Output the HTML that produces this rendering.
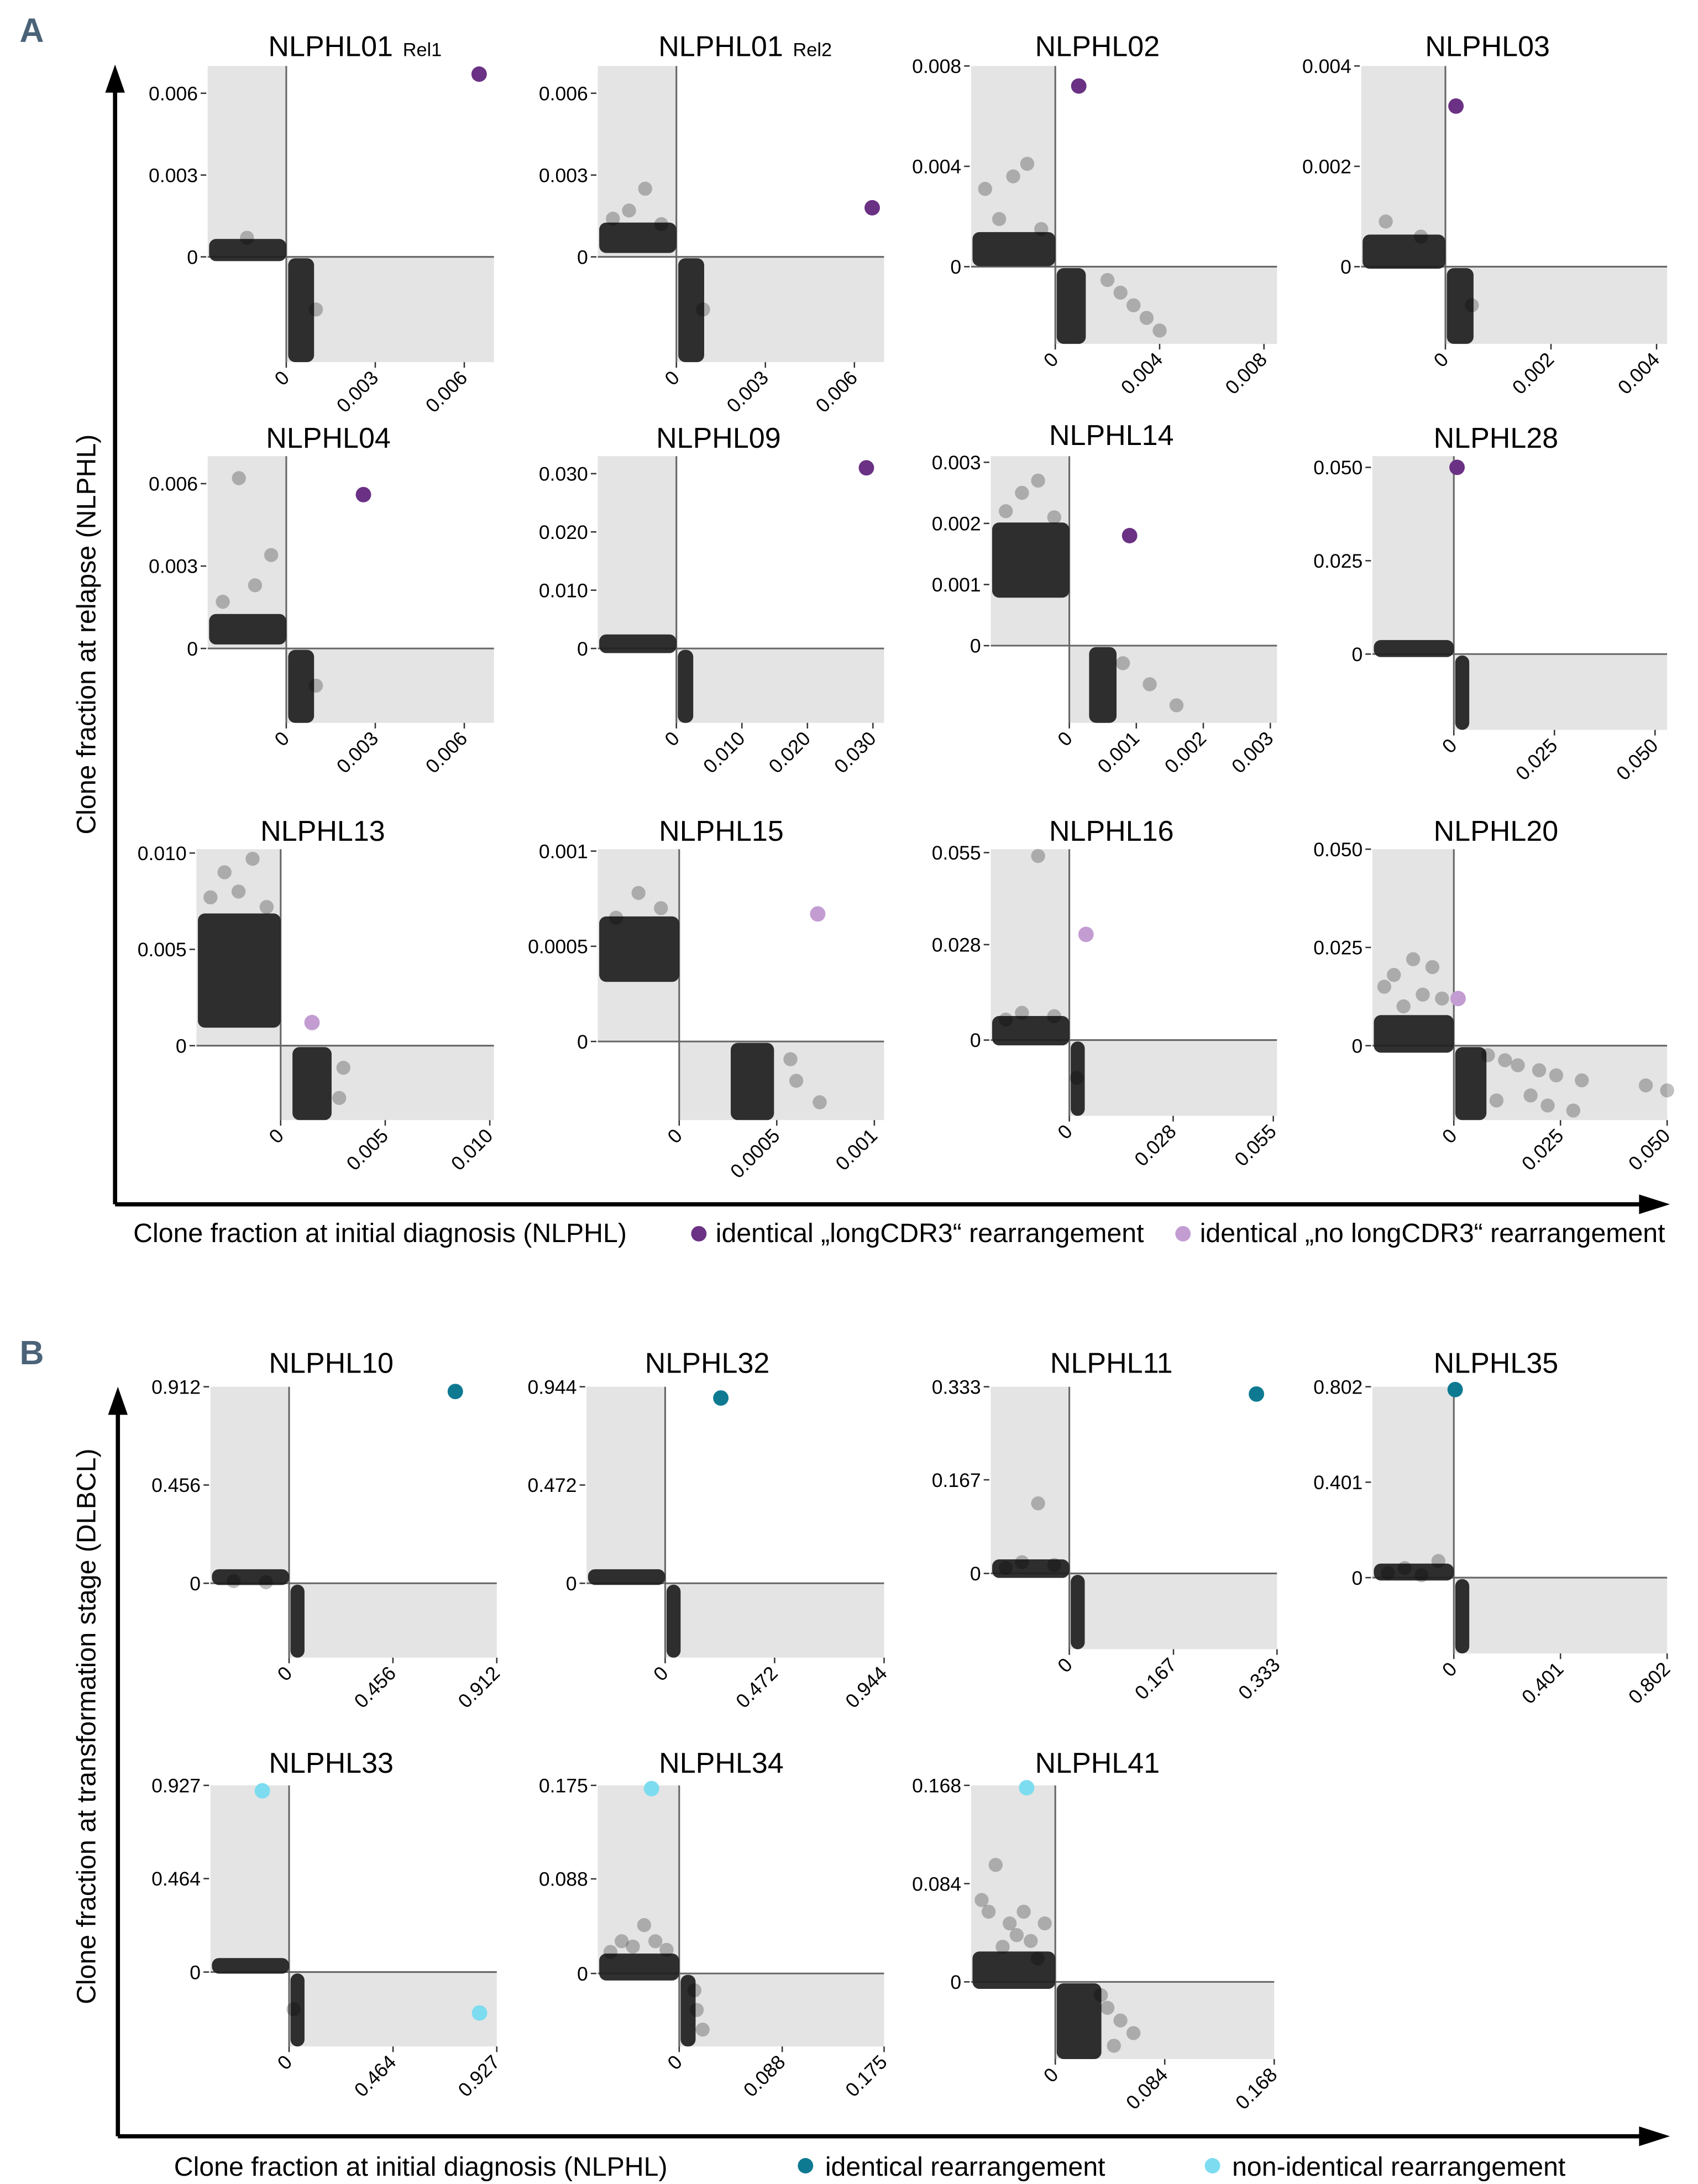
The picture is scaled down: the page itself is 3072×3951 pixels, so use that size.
<!DOCTYPE html>
<html><head><meta charset="utf-8"><style>
html,body{margin:0;padding:0;background:#fff;}
svg{display:block;font-family:"Liberation Sans",sans-serif;}
</style></head><body>
<svg id="fig" width="3072" height="3951" viewBox="0 0 1210 1556" preserveAspectRatio="none" xmlns="http://www.w3.org/2000/svg">
<g id="static">
<text x="14" y="30" font-size="24" font-weight="bold" fill="#4a6378" font-family="Liberation Sans Narrow, Liberation Sans, sans-serif">A</text>
<text x="14" y="972" font-size="24" font-weight="bold" fill="#4a6378" font-family="Liberation Sans Narrow, Liberation Sans, sans-serif">B</text>
<line x1="82" y1="858" x2="82" y2="62" stroke="#000" stroke-width="3"/>
<polygon points="82,46 75,66 89,66" fill="#000"/>
<line x1="82" y1="858" x2="1172" y2="858" stroke="#000" stroke-width="3"/>
<polygon points="1190,858 1168,851 1168,865" fill="#000"/>
<text transform="translate(68,452) rotate(-90)" text-anchor="middle" font-size="19">Clone fraction at relapse (NLPHL)</text>
<text x="95" y="885" font-size="19">Clone fraction at initial diagnosis (NLPHL)</text>
<circle cx="498" cy="879" r="5.5" fill="#6a3184"/>
<text x="510" y="885" font-size="19">identical „longCDR3“ rearrangement</text>
<circle cx="843" cy="879" r="5.5" fill="#c39dd2"/>
<text x="855" y="885" font-size="19">identical „no longCDR3“ rearrangement</text>
<line x1="84" y1="1522" x2="84" y2="1004" stroke="#000" stroke-width="3"/>
<polygon points="84,988 77,1008 91,1008" fill="#000"/>
<line x1="84" y1="1522" x2="1172" y2="1522" stroke="#000" stroke-width="3"/>
<polygon points="1190,1522 1168,1515 1168,1529" fill="#000"/>
<text transform="translate(68,1230) rotate(-90)" text-anchor="middle" font-size="19">Clone fraction at transformation stage (DLBCL)</text>
<text x="124" y="1550" font-size="19">Clone fraction at initial diagnosis (NLPHL)</text>
<circle cx="574" cy="1543" r="5.5" fill="#0e7a92"/>
<text x="588" y="1550" font-size="19">identical rearrangement</text>
<circle cx="864" cy="1543" r="5.5" fill="#7ddcf0"/>
<text x="878" y="1550" font-size="19">non-identical rearrangement</text>
</g>
<g id="panels"></g>
</svg>
<script>
// ---- data (per panel, small named arrays) ----
const titles = ["NLPHL01","NLPHL01","NLPHL02","NLPHL03","NLPHL04","NLPHL09","NLPHL14","NLPHL28","NLPHL13","NLPHL15","NLPHL16","NLPHL20",
                "NLPHL10","NLPHL32","NLPHL11","NLPHL35","NLPHL33","NLPHL34","NLPHL41"];
const subtitles = ["Rel1","Rel2","","","","","","","","","","","","","","","","",""];
const xRange = [0.0070,0.0070,0.0085,0.0042,0.0070,0.0317,0.0031,0.053,0.0102,0.00105,0.056,0.050,0.912,0.944,0.333,0.802,0.927,0.175,0.168];
const yRange = [0.0070,0.0070,0.0080,0.0040,0.0070,0.0330,0.0031,0.053,0.0102,0.00101,0.056,0.050,0.912,0.944,0.333,0.802,0.927,0.175,0.168];
const tickLabels = [["0","0.003","0.006"],["0","0.003","0.006"],["0","0.004","0.008"],["0","0.002","0.004"],["0","0.003","0.006"],
  ["0","0.010","0.020","0.030"],["0","0.001","0.002","0.003"],["0","0.025","0.050"],["0","0.005","0.010"],["0","0.0005","0.001"],
  ["0","0.028","0.055"],["0","0.025","0.050"],["0","0.456","0.912"],["0","0.472","0.944"],["0","0.167","0.333"],["0","0.401","0.802"],
  ["0","0.464","0.927"],["0","0.088","0.175"],["0","0.084","0.168"]];
// relapse-only clones (left band min/max, outliers)
const leftBand = [[0.0001,0.0004],[0.0004,0.001],[0.0003,0.0011],[0.0001,0.0005],[0.0004,0.001],[0,0.0008],[0.0009,0.0019],[0,0.0008],
  [0.0013,0.0065],[0.00035,0.00062],[0.0005,0.005],[0,0.006],[0,0.008],[0,0.008],[0,0.008],[0,0.012],[0,0.008],[0,0.012],[0,0.02]];
const leftOutliers = [[0.0007],[0.0014,0.0017,0.0025,0.0012],[0.0031,0.0019,0.0036,0.0041,0.0015],[0.0009,0.0006],[0.0017,0.0062,0.0023,0.0034],
  [],[0.0022,0.0025,0.0027,0.0021],[],[0.0077,0.009,0.008,0.0097,0.0072],[0.00065,0.00078,0.0007],[0.006,0.008,0.054,0.007],
  [0.015,0.018,0.01,0.022,0.013,0.02,0.012],[0.01,0.005],[],[0.01,0.02,0.125,0.015],[0.02,0.04,0.01,0.07],[],
  [0.02,0.03,0.025,0.045,0.03,0.022],[0.07,0.06,0.1,0.03,0.05,0.04,0.06,0.035,0.02,0.05]];
// diagnosis-only clones (bottom band min/max, outliers)
const bottomBand = [[0.0003,0.0007],[0.0003,0.0007],[0.0003,0.0009],[0.0001,0.0004],[0.0003,0.0007],[0.0005,0.0015],[0.0004,0.0006],[0,0.0008],
  [0.0009,0.0021],[0.0003,0.00045],[0.0003,0.0015],[0,0.006],[0,0.01],[0,0.01],[0,0.004],[0,0.005],[0,0.01],[0,0.008],[0,0.03]];
const bottomOutliers = [[0.001],[0.0009],[0.002,0.0025,0.003,0.0035,0.004],[0.0005],[0.001],[],[0.0008,0.0012,0.0016],[],
  [0.003,0.0028],[0.00057,0.0006,0.00072],[0.002],[0.008,0.012,0.015,0.02,0.024,0.03,0.045,0.05,0.018,0.01,0.022,0.028],[],[],[],[],[0.02],
  [0.013,0.015,0.02],[0.035,0.04,0.05,0.06,0.045]];
// shared clones: [x, y, colorIndex]; null x = relapse-only region, null y = diagnosis-only region
const specialPts = [[[0.0065,0.0067,0]],[[0.0066,0.0018,0]],[[0.0009,0.0072,0]],[[0.0002,0.0032,0]],[[0.0026,0.0056,0]],[[0.029,0.031,0]],
  [[0.0009,0.0018,0]],[[0.0008,0.050,0]],[[0.0015,0.0012,1]],[[0.00071,0.00067,1]],[[0.0045,0.031,1]],[[0.001,0.012,1]],
  [[0.73,0.89,2]],[[0.24,0.89,2]],[[0.3,0.32,2]],[[0.005,0.79,2]],[[null,0.9,3],[0.85,null,3]],[[null,0.172,3]],[[null,0.166,3]]];
const colors = ["#6a3184","#c39dd2","#0e7a92","#7ddcf0"];

// ---- layout (not data): gx0, vx, gx1, gy0, hy, gy1, titleY ----
const layout = [
 [148,204,352,47,183,258,40],[426,482,630,47,183,258,40],[692,752,910,47,190,245,40],[970,1030,1188,47,190,245,40],
 [148,204,352,325,462,515,319],[426,482,630,325,462,515,319],[706,762,910,325,460,515,317],[978,1036,1188,325,466,520,319],
 [140,200,352,605,745,798,599],[426,484,630,605,742,798,599],[706,762,910,605,741,795,599],[978,1036,1188,605,745,798,599],
 [150,206,354,988,1128,1181,978],[418,474,630,988,1128,1181,978],[706,762,910,988,1121,1175,978],[978,1036,1188,988,1124,1178,978],
 [150,206,354,1272,1405,1458,1263],[426,484,630,1272,1406,1458,1263],[692,752,908,1272,1412,1467,1263]];

const NS="http://www.w3.org/2000/svg";
const root=document.getElementById('panels');
function mk(tag,attrs,parent){const e=document.createElementNS(NS,tag);for(const k in attrs)e.setAttribute(k,attrs[k]);parent.appendChild(e);return e;}

titles.forEach((t,i)=>{
  const [gx0,vx,gx1,gy0,hy,gy1,ty]=layout[i];
  const sx=v=>vx+v/xRange[i]*(gx1-vx);
  const sy=v=>hy-v/yRange[i]*(hy-gy0);
  const g=mk('g',{},root);
  
  
  const bgL=mk('rect',{x:gx0,y:gy0,width:vx-gx0,height:hy-gy0,fill:'#e4e4e4'},g);
  
  
  const bgB=mk('rect',{x:vx,y:hy,width:gx1-vx,height:gy1-hy,fill:'#e4e4e4'},g);
  
  
  const vl=mk('line',{x1:vx,y1:gy0,x2:vx,y2:gy1,stroke:'#666','stroke-width':1.2},g);
  
  
  const hl=mk('line',{x1:gx0,y1:hy,x2:gx1,y2:hy,stroke:'#666','stroke-width':1.2},g);
  
  
  // title
  const tt=mk('text',{x:vx+(subtitles[i]?49:30),y:ty,'text-anchor':'middle','font-size':20.5},g);
  tt.textContent=t;
  if(subtitles[i]){const ts=mk('tspan',{'font-size':13.5,dx:7},tt);ts.textContent=subtitles[i];}
  
  
  // ticks
  tickLabels[i].forEach(lab=>{
    const v=parseFloat(lab);
    const y=sy(v);
    const yt=mk('text',{x:gx0-7,y:y+5,'text-anchor':'end','font-size':14},g);
    yt.textContent=lab;
    
    
    mk('line',{x1:gx0-5,y1:y,x2:gx0-1,y2:y,stroke:'#333','stroke-width':1},g);
    const x=sx(v);
    mk('line',{x1:x,y1:gy1,x2:x,y2:gy1+4,stroke:'#333','stroke-width':1},g);
    const xt=mk('text',{x:x+3,y:gy1+12,'text-anchor':'end','font-size':14,transform:`rotate(-45 ${x+3} ${gy1+12})`},g);
    xt.textContent=lab;
    
    
  });
  const r=5;
  // left band
  const lb=leftBand[i];
  const ly1=sy(lb[1])-r, ly0=sy(lb[0])+r;
  const lbr=mk('rect',{x:gx0+1,y:Math.min(ly1,hy-2*r),width:vx-gx0-1,height:Math.max(ly0-ly1,2*r),rx:r,fill:'#1e1e1e','fill-opacity':0.92},g);
  
  
  leftOutliers[i].forEach((v,k,a)=>{
    const c=mk('circle',{cx:gx0+r+(k+0.5)/a.length*(vx-gx0-2*r),cy:sy(v),r:r,fill:'#000','fill-opacity':0.25},g);
    
    
  });
  // bottom band
  const bb=bottomBand[i];
  const bx0=sx(bb[0])-r+ (bb[0]===0?r:0), bx1=sx(bb[1])+r;
  const bbr=mk('rect',{x:Math.max(bx0,vx+1),y:hy+1,width:Math.max(bx1-Math.max(bx0,vx+1),2*r),height:gy1-hy-1,rx:r,fill:'#1e1e1e','fill-opacity':0.92},g);
  
  
  bottomOutliers[i].forEach((v,k,a)=>{
    const c=mk('circle',{cx:sx(v),cy:hy+r+(k+0.5)/a.length*(gy1-hy-2*r),r:r,fill:'#000','fill-opacity':0.25},g);
    
    
  });
  // shared clones
  specialPts[i].forEach(p=>{
    const cx=p[0]===null? gx0+0.66*(vx-gx0) : sx(p[0]);
    const cy=p[1]===null? hy+0.55*(gy1-hy) : sy(p[1]);
    const c=mk('circle',{cx:cx,cy:cy,r:5.5,fill:colors[p[2]]},g);
    
    
  });
});
</script>
</body></html>
